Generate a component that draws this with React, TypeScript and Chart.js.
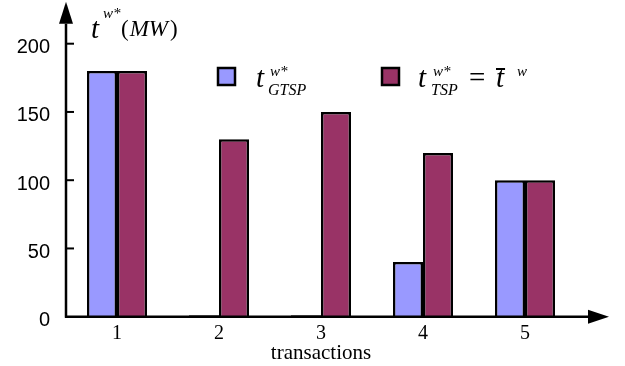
import { useEffect, useRef } from 'react';
import { Chart, registerables } from 'chart.js';

Chart.register(...registerables);

// Transaction indices along the horizontal axis
const categories = ['1', '2', '3', '4', '5'];
// Power flow per transaction, GTSP solution (MW)
const gtspValues = [180, 1, 1, 40, 100];
// Power flow per transaction, TSP solution (MW)
const tspValues = [180, 130, 150, 120, 100];
// Labelled values on the vertical axis
const yTickValues = [0, 50, 100, 150, 200];
const seriesNames = ['t w* GTSP', 't w* TSP = t̄ w'];
const xAxisTitle = 'transactions';

const BLUE = '#9999ff';
const PURPLE = '#993366';
const SERIF = '"Liberation Serif", "Times New Roman", serif';
const SANS = '"Liberation Sans", Arial, sans-serif';

// Plot area: 5 categories of 102px starting at x = 66, so bar edges land on whole pixels
const AXIS_X = 66;
const CATEGORY_PX = 102;
const PAIR_PX = 60;

type Piece = { text: string; size: number; italic?: boolean; dx?: number; dy?: number };

// Draw a run of text pieces; dx is the gap before a piece, dy shifts its baseline
function drawRun(ctx: CanvasRenderingContext2D, x: number, baseline: number, pieces: Piece[]) {
  let cx = x;
  for (const p of pieces) {
    cx += p.dx ?? 0;
    ctx.font = `${p.italic ? 'italic ' : ''}${p.size}px ${SERIF}`;
    ctx.fillText(p.text, cx, baseline + (p.dy ?? 0));
    cx += ctx.measureText(p.text).width;
  }
  return cx;
}

const decorPlugin = {
  id: 'axesAndKey',
  afterDraw(chart: Chart) {
    const { ctx, chartArea } = chart;
    const y = chart.scales.y;
    const x0 = chartArea.left;
    const yBase = y.getPixelForValue(0);
    const yTop = y.getPixelForValue(200);

    ctx.save();
    ctx.strokeStyle = '#000';
    ctx.fillStyle = '#000';
    ctx.lineCap = 'butt';

    // Vertical axis with arrow head
    ctx.lineWidth = 2.5;
    ctx.beginPath();
    ctx.moveTo(x0, yBase + 1);
    ctx.lineTo(x0, yTop - 20);
    ctx.stroke();
    ctx.beginPath();
    ctx.moveTo(x0, yTop - 42);
    ctx.lineTo(x0 - 7, yTop - 20);
    ctx.lineTo(x0 + 7, yTop - 20);
    ctx.closePath();
    ctx.fill();

    // Horizontal axis with arrow head
    const xEnd = chartArea.right + 12;
    ctx.beginPath();
    ctx.moveTo(x0 - 1, yBase);
    ctx.lineTo(xEnd, yBase);
    ctx.stroke();
    ctx.beginPath();
    ctx.moveTo(xEnd + 21, yBase);
    ctx.lineTo(xEnd, yBase - 7);
    ctx.lineTo(xEnd, yBase + 7);
    ctx.closePath();
    ctx.fill();

    // Inward tick marks
    ctx.lineWidth = 2;
    for (const v of yTickValues) {
      if (v === 0) continue;
      const py = y.getPixelForValue(v);
      ctx.beginPath();
      ctx.moveTo(x0, py);
      ctx.lineTo(x0 + 8, py);
      ctx.stroke();
    }

    // Vertical axis title: t^{w*}(MW)
    ctx.textAlign = 'left';
    ctx.textBaseline = 'alphabetic';
    drawRun(ctx, 91, 38, [{ text: 't', size: 29, italic: true }]);
    drawRun(ctx, 103, 18, [{ text: 'w*', size: 15, italic: true }]);
    drawRun(ctx, 121, 36, [
      { text: '(', size: 23 },
      { text: 'MW', size: 23, italic: true, dx: 1 },
      { text: ')', size: 23, dx: 2 },
    ]);

    // Key
    const boxes = [
      { x: 218, color: BLUE },
      { x: 382, color: PURPLE },
    ];
    ctx.lineWidth = 2.5;
    for (const b of boxes) {
      ctx.fillStyle = b.color;
      ctx.fillRect(b.x, 68, 17, 17);
      ctx.strokeRect(b.x, 68, 17, 17);
    }
    ctx.fillStyle = '#000';
    drawRun(ctx, 256, 87, [{ text: 't', size: 29, italic: true }]);
    drawRun(ctx, 270, 76, [{ text: 'w*', size: 15, italic: true }]);
    drawRun(ctx, 268, 95, [{ text: 'GTSP', size: 16, italic: true }]);

    drawRun(ctx, 418, 87, [{ text: 't', size: 29, italic: true }]);
    drawRun(ctx, 433, 76, [{ text: 'w*', size: 15, italic: true }]);
    drawRun(ctx, 431, 95, [{ text: 'TSP', size: 16, italic: true }]);
    drawRun(ctx, 469, 87, [{ text: '=', size: 29 }]);
    const tEnd = drawRun(ctx, 496, 87, [{ text: 't', size: 29, italic: true }]);
    ctx.lineWidth = 2;
    ctx.beginPath();
    ctx.moveTo(496, 69);
    ctx.lineTo(tEnd + 1, 69);
    ctx.stroke();
    drawRun(ctx, 517, 76, [{ text: 'w', size: 15, italic: true }]);

    ctx.restore();
  },
};

export default function App() {
  const canvasRef = useRef<HTMLCanvasElement | null>(null);

  useEffect(() => {
    const canvas = canvasRef.current;
    if (!canvas) return;
    const catPct = PAIR_PX / CATEGORY_PX;
    const chart = new Chart(canvas, {
      type: 'bar',
      data: {
        labels: categories,
        datasets: [
          {
            label: seriesNames[0],
            data: gtspValues,
            backgroundColor: BLUE,
            borderColor: '#000',
            borderWidth: 2.5,
            inflateAmount: 0,
            categoryPercentage: catPct,
            barPercentage: 1,
          },
          {
            label: seriesNames[1],
            data: tspValues,
            backgroundColor: PURPLE,
            borderColor: '#000',
            borderWidth: 2.5,
            inflateAmount: 0,
            categoryPercentage: catPct,
            barPercentage: 1,
          },
        ],
      },
      options: {
        animation: false,
        responsive: false,
        devicePixelRatio: 1,
        layout: {
          padding: { top: 43.7, right: 625 - AXIS_X - CATEGORY_PX * categories.length, left: 0, bottom: 0 },
        },
        plugins: {
          legend: { display: false },
          tooltip: { enabled: false },
          title: { display: false },
        },
        scales: {
          x: {
            type: 'category',
            offset: true,
            grid: { display: false, drawTicks: false },
            border: { display: false },
            ticks: {
              color: '#000',
              font: { family: SERIF, size: 20 },
              padding: 5,
              maxRotation: 0,
            },
            title: {
              display: true,
              text: xAxisTitle,
              color: '#000',
              font: { family: SERIF, size: 21 },
              padding: { top: 0, bottom: 0 },
            },
            afterFit: (s: any) => {
              s.height = 49.3;
            },
          },
          y: {
            min: 0,
            max: 200,
            grid: { display: false, drawTicks: false },
            border: { display: false },
            ticks: {
              stepSize: 50,
              color: '#000',
              font: { family: SANS, size: 20 },
              padding: 16,
              labelOffset: 4,
            },
            afterBuildTicks: (s: any) => {
              s.ticks = yTickValues.map((v) => ({ value: v }));
            },
            afterFit: (s: any) => {
              s.width = AXIS_X;
            },
          },
        },
      },
      plugins: [decorPlugin],
    });
    return () => chart.destroy();
  }, []);

  return (
    <div style={{ position: 'fixed', left: 0, top: 0, width: 625, height: 366, background: '#fff' }}>
      <canvas ref={canvasRef} width={625} height={366} style={{ display: 'block', width: 625, height: 366 }} />
    </div>
  );
}
